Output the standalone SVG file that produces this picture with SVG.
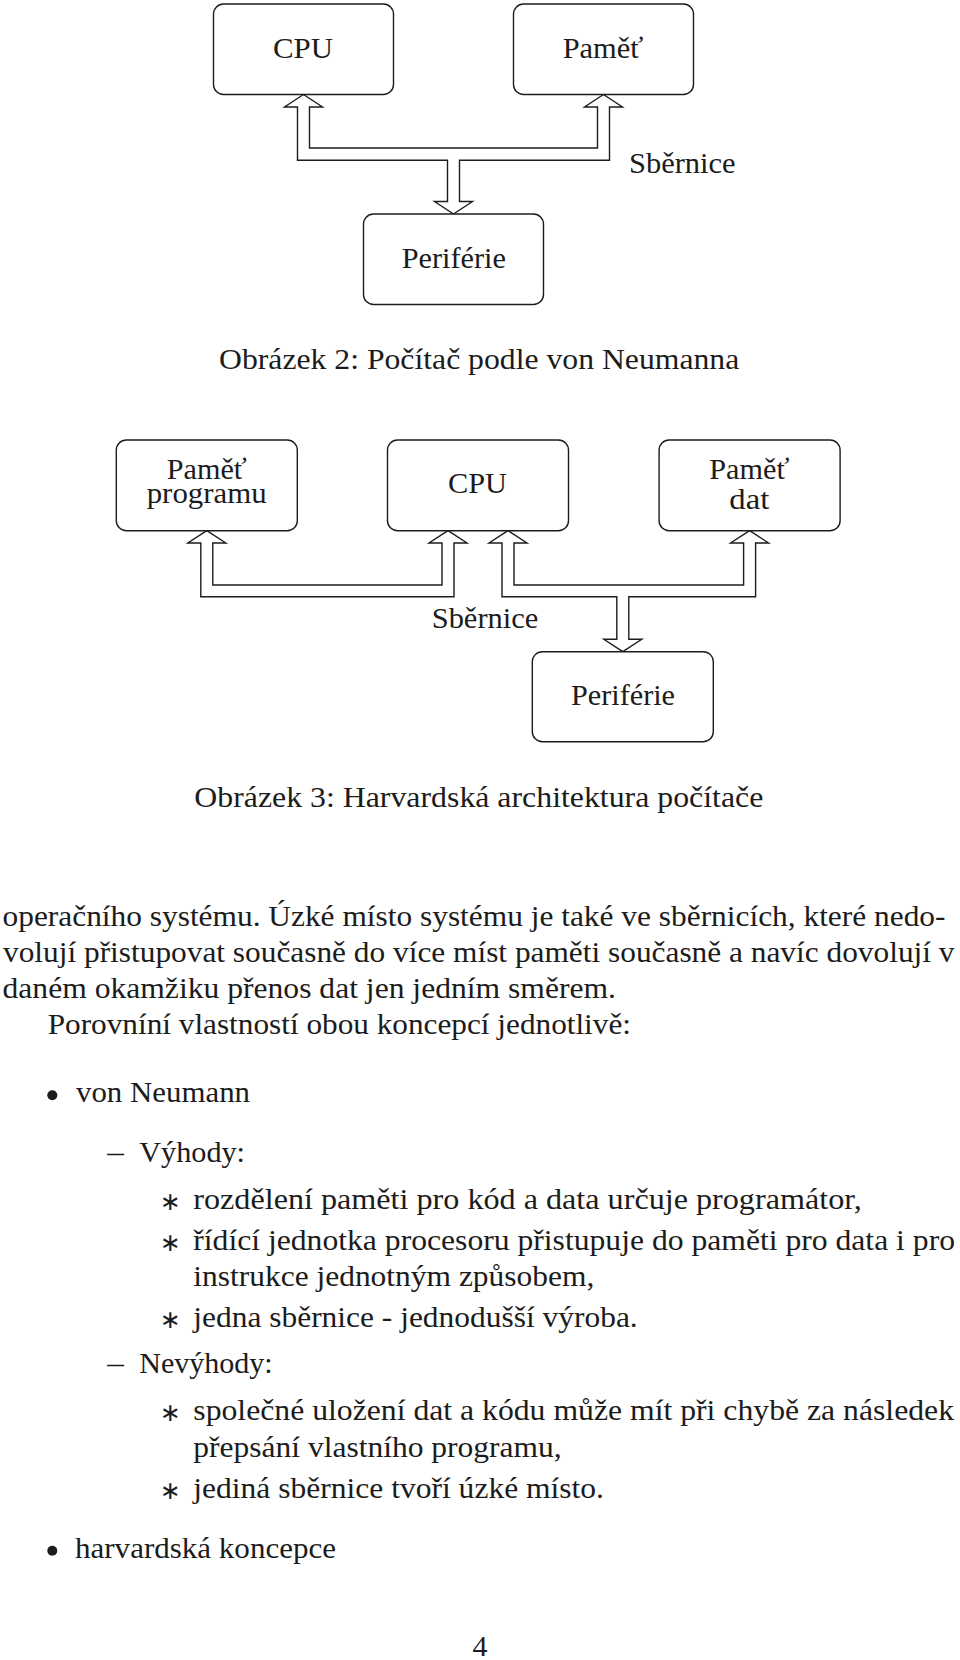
<svg xmlns="http://www.w3.org/2000/svg" width="960" height="1660" viewBox="0 0 960 1660">
<style>
.t{font-family:'Liberation Serif','Times New Roman',serif;font-size:30px;fill:#1c1c1c}
.box{fill:#fff;stroke:#1c1c1c;stroke-width:1.4}
.bus{fill:#fff;stroke:#1c1c1c;stroke-width:1.4;stroke-linejoin:miter}
.ast{font-family:'DejaVu Sans',sans-serif;font-size:25px;fill:#1c1c1c}
.dot{fill:#1c1c1c}
</style>
<rect width="960" height="1660" fill="#fff"/>

<!-- Figure 2: von Neumann -->
<g id="connectors-fig2">
<polygon class="bus" points="303.5,94.5 322.5,107 309.5,107 309.5,148 597.5,148 597.5,107 584.5,107 603.5,94.5 622.5,107 609.5,107 609.5,160.3 459.5,160.3 459.5,201.5 472.5,201.5 453.5,214 434.5,201.5 447.5,201.5 447.5,160.3 297.5,160.3 297.5,107 284.5,107"/>
</g>
<g id="n-cpu1">
<rect class="box" x="213.5" y="4" width="180" height="90.5" rx="10"/>
<text class="t" x="273" y="58.3" textLength="60" lengthAdjust="spacingAndGlyphs">CPU</text>
</g>
<g id="n-pamet1">
<rect class="box" x="513.5" y="4" width="180" height="90.5" rx="10"/>
<text class="t" x="562.7" y="58.3" textLength="80.6" lengthAdjust="spacingAndGlyphs">Paměť</text>
</g>
<g id="n-periferie1">
<rect class="box" x="363.5" y="214" width="180" height="90.5" rx="10"/>
<text class="t" x="401.7" y="268" textLength="104.3" lengthAdjust="spacingAndGlyphs">Periférie</text>
</g>
<text class="t" x="629" y="173" textLength="106.6" lengthAdjust="spacingAndGlyphs">Sběrnice</text>
<text class="t" x="219" y="369" textLength="520.3" lengthAdjust="spacingAndGlyphs">Obrázek 2: Počítač podle von Neumanna</text>

<!-- Figure 3: Harvard -->
<g id="connectors-fig3">
<polygon class="bus" points="206.8,530.7 225.8,543 212.8,543 212.8,585 442,585 442,543 429,543 448,530.7 467,543 454,543 454,596.7 200.8,596.7 200.8,543 187.8,543"/>
<polygon class="bus" points="508,530.7 527,543 514,543 514,585 743.6,585 743.6,543 730.6,543 749.6,530.7 768.6,543 755.6,543 755.6,596.7 628.8,596.7 628.8,639.3 641.8,639.3 622.8,651.7 603.8,639.3 616.8,639.3 616.8,596.7 502,596.7 502,543 489,543"/>
</g>
<g id="n-pamet-programu">
<rect class="box" x="116.3" y="440" width="181" height="90.7" rx="10"/>
<text class="t" x="166.7" y="479.3" textLength="80" lengthAdjust="spacingAndGlyphs">Paměť</text>
<text class="t" x="146.7" y="503.3" textLength="120" lengthAdjust="spacingAndGlyphs">programu</text>
</g>
<g id="n-cpu2">
<rect class="box" x="387.5" y="440" width="181" height="90.7" rx="10"/>
<text class="t" x="448" y="493.3" textLength="59" lengthAdjust="spacingAndGlyphs">CPU</text>
</g>
<g id="n-pamet-dat">
<rect class="box" x="659.1" y="440" width="181" height="90.7" rx="10"/>
<text class="t" x="709.3" y="479.3" textLength="80" lengthAdjust="spacingAndGlyphs">Paměť</text>
<text class="t" x="729.3" y="509.3" textLength="40" lengthAdjust="spacingAndGlyphs">dat</text>
</g>
<g id="n-periferie2">
<rect class="box" x="532.3" y="651.7" width="181" height="90" rx="10"/>
<text class="t" x="571" y="705" textLength="104" lengthAdjust="spacingAndGlyphs">Periférie</text>
</g>
<text class="t" x="431.7" y="628.3" textLength="106.6" lengthAdjust="spacingAndGlyphs">Sběrnice</text>
<text class="t" x="194.3" y="806.7" textLength="569" lengthAdjust="spacingAndGlyphs">Obrázek 3: Harvardská architektura počítače</text>

<!-- Body text -->
<text class="t" x="2.5" y="925.7" textLength="943" lengthAdjust="spacingAndGlyphs">operačního systému. Úzké místo systému je také ve sběrnicích, které nedo-</text>
<text class="t" x="3" y="961.7" textLength="951.5" lengthAdjust="spacingAndGlyphs">volují přistupovat současně do více míst paměti současně a navíc dovolují v</text>
<text class="t" x="2.5" y="997.7" textLength="613.5" lengthAdjust="spacingAndGlyphs">daném okamžiku přenos dat jen jedním směrem.</text>
<text class="t" x="47.7" y="1034" textLength="583.3" lengthAdjust="spacingAndGlyphs">Porovníní vlastností obou koncepcí jednotlivě:</text>

<circle class="dot" cx="52.3" cy="1095.3" r="5"/>
<text class="t" x="76" y="1102.3" textLength="174" lengthAdjust="spacingAndGlyphs">von Neumann</text>

<text class="t" x="107.3" y="1162" textLength="16.7" lengthAdjust="spacingAndGlyphs">–</text>
<text class="t" x="139.3" y="1162" textLength="105.7" lengthAdjust="spacingAndGlyphs">Výhody:</text>

<text class="ast" x="170.5" y="1210" text-anchor="middle">∗</text>
<text class="ast" x="170.5" y="1251" text-anchor="middle">∗</text>
<text class="ast" x="170.5" y="1327.5" text-anchor="middle">∗</text>
<text class="ast" x="170.5" y="1421" text-anchor="middle">∗</text>
<text class="ast" x="170.5" y="1499" text-anchor="middle">∗</text>
<text class="t" x="193.3" y="1209.3" textLength="668.4" lengthAdjust="spacingAndGlyphs">rozdělení paměti pro kód a data určuje programátor,</text>
<text class="t" x="193.3" y="1250" textLength="761.7" lengthAdjust="spacingAndGlyphs">řídící jednotka procesoru přistupuje do paměti pro data i pro</text>
<text class="t" x="193.3" y="1286" textLength="401" lengthAdjust="spacingAndGlyphs">instrukce jednotným způsobem,</text>
<text class="t" x="193.3" y="1326.7" textLength="444.4" lengthAdjust="spacingAndGlyphs">jedna sběrnice - jednodušší výroba.</text>

<text class="t" x="107.3" y="1373.3" textLength="16.7" lengthAdjust="spacingAndGlyphs">–</text>
<text class="t" x="139.3" y="1373.3" textLength="133.4" lengthAdjust="spacingAndGlyphs">Nevýhody:</text>

<text class="t" x="193.3" y="1420" textLength="760.7" lengthAdjust="spacingAndGlyphs">společné uložení dat a kódu může mít při chybě za následek</text>
<text class="t" x="193.3" y="1456.7" textLength="368.4" lengthAdjust="spacingAndGlyphs">přepsání vlastního programu,</text>
<text class="t" x="193.3" y="1498" textLength="410.7" lengthAdjust="spacingAndGlyphs">jediná sběrnice tvoří úzké místo.</text>

<circle class="dot" cx="52.3" cy="1550.7" r="5"/>
<text class="t" x="75" y="1557.7" textLength="261" lengthAdjust="spacingAndGlyphs">harvardská koncepce</text>

<text class="t" x="480" y="1656" text-anchor="middle">4</text>
</svg>
